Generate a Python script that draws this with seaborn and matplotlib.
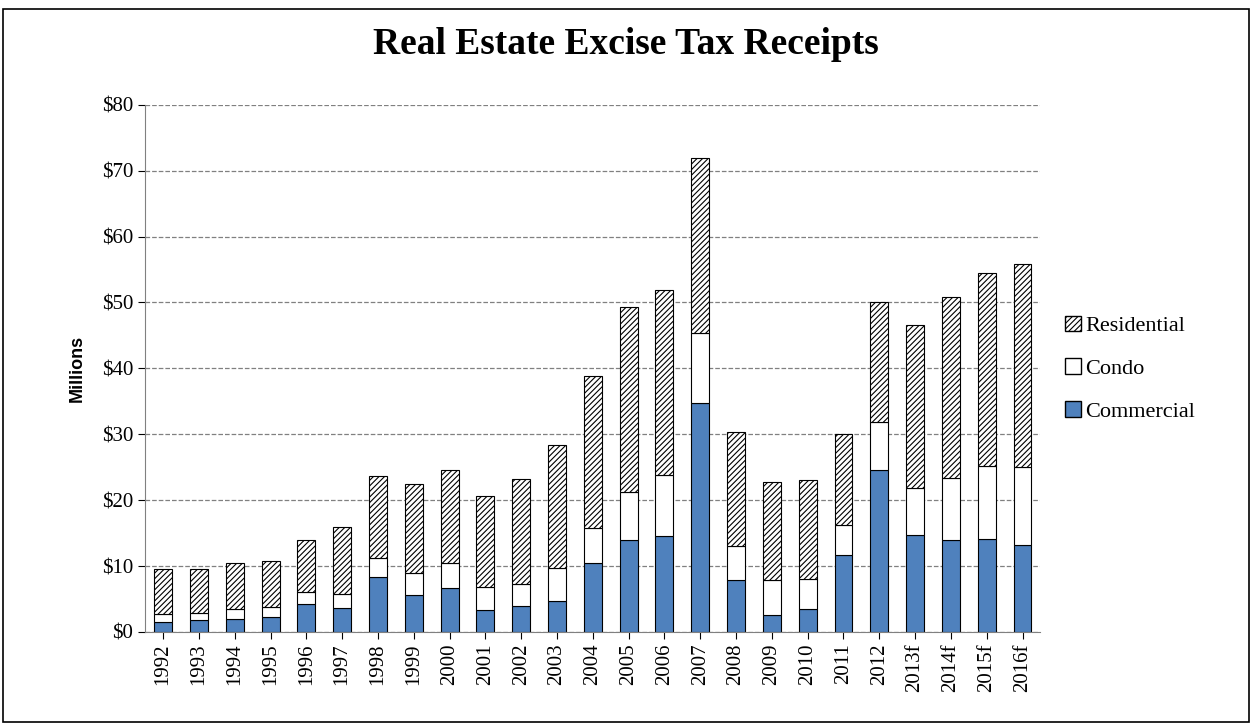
import numpy as np
import pandas as pd
import matplotlib
matplotlib.use("Agg")
import matplotlib.pyplot as plt
import seaborn as sns
from matplotlib.patches import Patch, Rectangle

years = ["1992", "1993", "1994", "1995", "1996", "1997", "1998", "1999", "2000", "2001",
         "2002", "2003", "2004", "2005", "2006", "2007", "2008", "2009", "2010", "2011",
         "2012", "2013f", "2014f", "2015f", "2016f"]
commercial = [1.5, 1.8, 2.0, 2.3, 4.3, 3.6, 8.4, 5.6, 6.6, 3.3,
              3.9, 4.7, 10.4, 14.0, 14.5, 34.8, 7.9, 2.6, 3.5, 11.6,
              24.6, 14.7, 14.0, 14.1, 13.2]
condo = [1.2, 1.0, 1.5, 1.5, 1.7, 2.2, 2.8, 3.4, 3.9, 3.5,
         3.4, 5.0, 5.4, 7.3, 9.3, 10.5, 5.2, 5.3, 4.6, 4.6,
         7.3, 7.2, 9.4, 11.1, 11.8]
residential = [6.9, 6.7, 6.9, 6.9, 8.0, 10.1, 12.4, 13.5, 14.0, 13.9,
               15.9, 18.6, 23.1, 28.0, 28.1, 26.6, 17.2, 14.8, 15.0, 13.9,
               18.1, 24.7, 27.4, 29.2, 30.9]

df = pd.DataFrame({"year": years, "commercial": commercial, "condo": condo,
                   "residential": residential})
df["base_res"] = df["commercial"] + df["condo"]

sns.set_style("white")
plt.rcParams["font.family"] = ["Liberation Serif", "DejaVu Serif"]
plt.rcParams["hatch.linewidth"] = 0.8
plt.rcParams["text.color"] = "black"
plt.rcParams["axes.labelcolor"] = "black"
plt.rcParams["xtick.color"] = "black"
plt.rcParams["ytick.color"] = "black"

fig = plt.figure(figsize=(12.52, 7.23), dpi=100)
ax = fig.add_axes([0.116, 0.126, 0.715, 0.729])
fig.patches.append(Rectangle((0.002, 0.002), 0.996, 0.985, transform=fig.transFigure,
                             fill=False, edgecolor="black", linewidth=1.2))

w = 0.5
sns.barplot(data=df, x="year", y="commercial", color="#4f81bd", edgecolor="black",
            linewidth=0.8, width=w, saturation=1, ax=ax)
sns.barplot(data=df, x="year", y="condo", bottom=df["commercial"], color="white",
            edgecolor="black", linewidth=0.8, width=w, saturation=1, ax=ax)
sns.barplot(data=df, x="year", y="residential", bottom=df["base_res"], color="white",
            edgecolor="black", linewidth=0.8, width=w, saturation=1, hatch="//////", ax=ax)

ax.set_ylim(0, 80)
ax.set_xlim(-0.5, len(years) - 0.5)
ax.set_yticks(range(0, 81, 10))
ax.set_yticklabels([f"${v}" for v in range(0, 81, 10)], fontsize=15)
ax.set_xticklabels(years, rotation=90, fontsize=15)
ax.tick_params(axis="x", length=5, direction="out", bottom=True, colors="black")
ax.tick_params(axis="y", length=5, direction="out", left=True, colors="black")
ax.set_xlabel("")
ax.set_ylabel("Millions", fontsize=13, fontweight="bold", family="Liberation Sans", labelpad=12)
ax.yaxis.grid(True, linestyle="--", color="#808080", linewidth=0.9)
ax.set_axisbelow(True)
for s in ["top", "right"]:
    ax.spines[s].set_visible(False)
ax.spines["left"].set_color("#808080")
ax.spines["bottom"].set_color("#808080")

fig.text(0.5, 0.925, "Real Estate Excise Tax Receipts", ha="center", fontsize=27,
         fontweight="bold", color="black")

handles = [Patch(facecolor="white", edgecolor="black", hatch="//////", label="Residential"),
           Patch(facecolor="white", edgecolor="black", label="Condo"),
           Patch(facecolor="#4f81bd", edgecolor="black", label="Commercial")]
fig.legend(handles=handles, loc="center left", bbox_to_anchor=(0.835, 0.49), frameon=False,
           fontsize=16, handlelength=0.7, handleheight=0.7, handletextpad=0.2, labelspacing=1.0)

fig.savefig("out.png", dpi=100)
